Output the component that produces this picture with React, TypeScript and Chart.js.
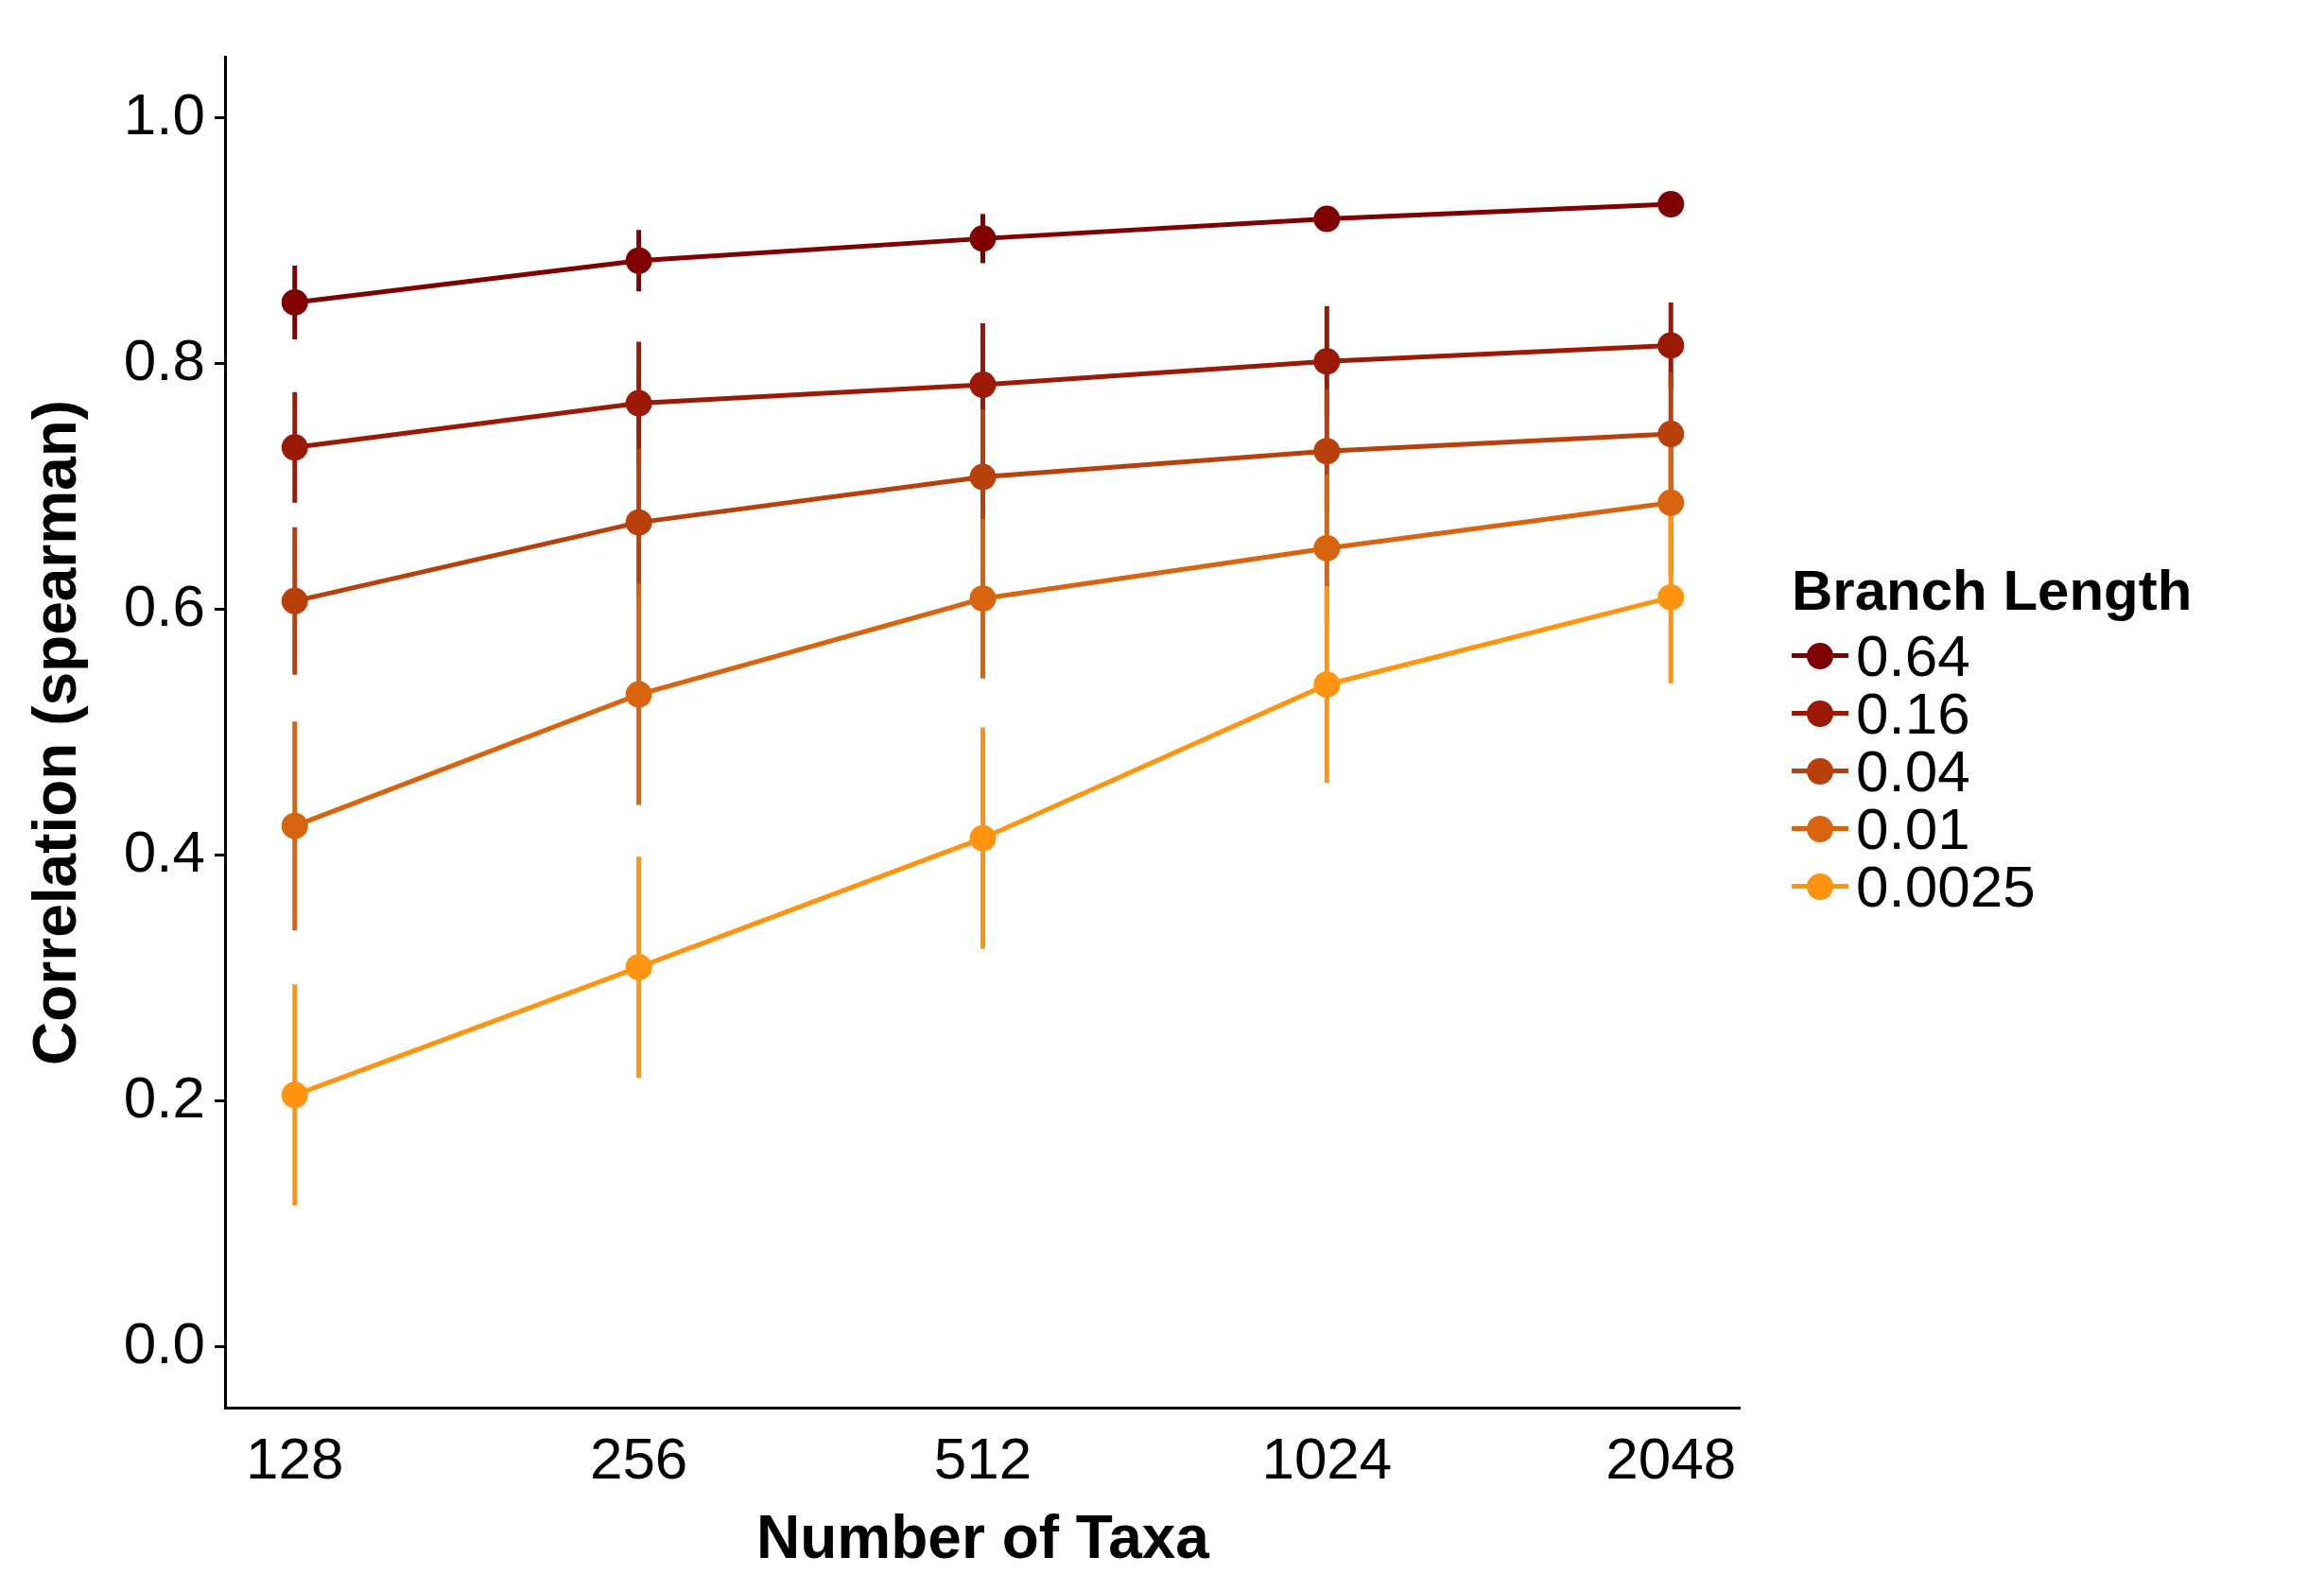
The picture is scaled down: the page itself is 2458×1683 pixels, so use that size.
import React, { useEffect, useRef } from 'react';
import { Chart, registerables } from 'chart.js';

Chart.register(...registerables);

const taxa = ['128', '256', '512', '1024', '2048'];
const branchLengths = ['0.64', '0.16', '0.04', '0.01', '0.0025'];
const colors = ['#7f0000', '#9b1a05', '#b8410b', '#d8640f', '#ff9411'];

const mean064 = [0.85, 0.884, 0.902, 0.918, 0.93];
const mean016 = [0.732, 0.768, 0.783, 0.802, 0.815];
const mean004 = [0.607, 0.671, 0.708, 0.729, 0.743];
const mean001 = [0.424, 0.531, 0.609, 0.65, 0.687];
const mean00025 = [0.205, 0.309, 0.414, 0.539, 0.61];

const err064 = [0.03, 0.025, 0.02, 0.01, 0.01];
const err016 = [0.045, 0.05, 0.05, 0.045, 0.035];
const err004 = [0.06, 0.06, 0.055, 0.05, 0.05];
const err001 = [0.085, 0.09, 0.065, 0.06, 0.06];
const err00025 = [0.09, 0.09, 0.09, 0.08, 0.07];

const means = [mean064, mean016, mean004, mean001, mean00025];
const errs = [err064, err016, err004, err001, err00025];

const FONT = '"Liberation Sans", Arial, sans-serif';

const errorBars = {
  id: 'errorBars',
  beforeDatasetsDraw(chart: any) {
    const { ctx, scales } = chart;
    chart.data.datasets.forEach((ds: any, i: number) => {
      ctx.save();
      ctx.strokeStyle = colors[i];
      ctx.lineWidth = 5;
      ds.data.forEach((p: any, j: number) => {
        const x = scales.x.getPixelForValue(p.x);
        ctx.beginPath();
        ctx.moveTo(x, scales.y.getPixelForValue(p.y - errs[i][j]));
        ctx.lineTo(x, scales.y.getPixelForValue(p.y + errs[i][j]));
        ctx.stroke();
      });
      ctx.restore();
    });
  },
};

const App = () => {
  const chartRef = useRef<HTMLCanvasElement>(null);

  useEffect(() => {
    document.body.style.margin = '0';
    if (!chartRef.current) return;
    const chart = new Chart(chartRef.current, {
      type: 'line',
      data: {
        datasets: branchLengths.map((label, i) => ({
          label,
          data: means[i].map((y, j) => ({ x: j, y })),
          borderColor: colors[i],
          backgroundColor: colors[i],
          borderWidth: 5,
          pointRadius: 14,
          pointBorderWidth: 0,
        })),
      },
      plugins: [errorBars],
      options: {
        animation: false,
        responsive: false,
        layout: { padding: { top: 60, right: 30, left: 20, bottom: 10 } },
        plugins: { legend: { display: false }, tooltip: { enabled: false } },
        scales: {
          x: {
            type: 'linear',
            min: -0.2,
            max: 4.2,
            afterBuildTicks: (axis: any) => {
              axis.ticks = taxa.map((_, i) => ({ value: i }));
            },
            ticks: {
              callback: (v: any) => taxa[v] ?? '',
              color: '#000',
              font: { family: FONT, size: 62 },
              padding: 8,
            },
            grid: { display: false, drawOnChartArea: false, drawTicks: true, tickLength: 12, tickColor: '#000', tickWidth: 3 } as any,
            border: { display: true, color: '#000', width: 3 },
            title: {
              display: true,
              text: 'Number of Taxa',
              color: '#000',
              font: { family: FONT, size: 64, weight: 'bold' },
              padding: { top: 0 },
            },
          },
          y: {
            min: -0.05,
            max: 1.05,
            afterBuildTicks: (axis: any) => {
              axis.ticks = [0, 0.2, 0.4, 0.6, 0.8, 1.0].map(value => ({ value }));
            },
            ticks: {
              callback: (v: any) => Number(v).toFixed(1),
              color: '#000',
              font: { family: FONT, size: 62 },
              padding: 10,
            },
            grid: { display: true, drawOnChartArea: false, drawTicks: true, tickLength: 12, tickColor: '#000', tickWidth: 3 } as any,
            border: { display: true, color: '#000', width: 3 },
            title: {
              display: true,
              text: 'Correlation (spearman)',
              color: '#000',
              font: { family: FONT, size: 64, weight: 'bold' },
              padding: { bottom: 20 },
            },
          },
        },
      },
    });
    return () => chart.destroy();
  }, []);

  return (
    <div style={{ position: 'relative', width: 2458, height: 1683, background: '#fff', fontFamily: FONT }}>
      <canvas ref={chartRef} width={1870} height={1683} style={{ position: 'absolute', left: 0, top: 0 }} />
      <div style={{ position: 'absolute', left: 1895, top: 590 }}>
        <div style={{ fontWeight: 'bold', fontSize: 60, marginBottom: 4 }}>Branch Length</div>
        {branchLengths.map((label, i) => (
          <div key={label} style={{ display: 'flex', alignItems: 'center', height: 61 }}>
            <div style={{ position: 'relative', width: 60, height: 30, marginRight: 8 }}>
              <div style={{ position: 'absolute', left: 0, right: 0, top: 12, height: 5, background: colors[i] }} />
              <div style={{ position: 'absolute', left: 16, top: 1, width: 28, height: 28, borderRadius: 14, background: colors[i] }} />
            </div>
            <span style={{ fontSize: 62 }}>{label}</span>
          </div>
        ))}
      </div>
    </div>
  );
};

export default App;
